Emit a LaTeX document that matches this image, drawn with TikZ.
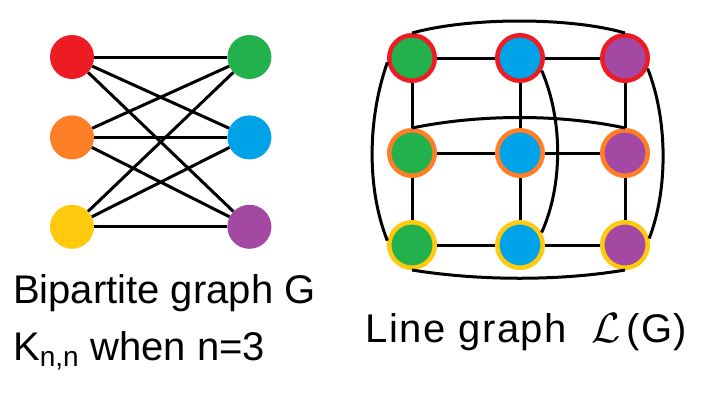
\documentclass[tikz,border=0pt]{standalone}
\usepackage{fontspec}
\setsansfont{Liberation Sans}
\usetikzlibrary{positioning}
\definecolor{pRed}{HTML}{ED1C24}
\definecolor{pOrange}{HTML}{FF7F27}
\definecolor{pYellow}{HTML}{FFC90E}
\definecolor{pGreen}{HTML}{22B14C}
\definecolor{pBlue}{HTML}{00A2E8}
\definecolor{pPurple}{HTML}{A349A4}

\begin{document}
\begin{tikzpicture}[
    x=1pt, y=-1pt,
    % Style definitions
    vertex/.style={circle, minimum size=44pt, inner sep=0pt},
    linevertex/.style={circle, minimum size=45.5pt, inner sep=0pt, line width=4.5pt},
    link/.style={line width=3pt, black},
    handtext/.style={font=\fontsize{40}{44}\selectfont\sffamily, anchor=base west, inner sep=0pt},
]
\useasboundingbox (0,0) rectangle (716,400);

% Bipartite graph G
\node[vertex, fill=pRed] (u1) at (72,57) {};
\node[vertex, fill=pOrange, below=36pt of u1] (u2) {};
\node[vertex, fill=pYellow, below=45pt of u2] (u3) {};
\node[vertex, fill=pGreen, right=133pt of u1] (v1) {};
\node[vertex, fill=pBlue, right=133pt of u2] (v2) {};
\node[vertex, fill=pPurple, right=133pt of u3] (v3) {};

\foreach \a in {1,2,3}
  \foreach \b in {1,2,3}
    \draw[link] (u\a) -- (v\b);

% Line graph L(G)
\node[linevertex, draw=pRed, fill=pGreen] (e11) at (412,58) {};
\node[linevertex, draw=pRed, fill=pBlue, right=58pt of e11] (e12) {};
\node[linevertex, draw=pRed, fill=pPurple, right=55pt of e12] (e13) {};
\node[linevertex, draw=pOrange, fill=pGreen, below=45pt of e11] (e21) {};
\node[linevertex, draw=pOrange, fill=pBlue, below=45pt of e12] (e22) {};
\node[linevertex, draw=pOrange, fill=pPurple, below=45pt of e13] (e23) {};
\node[linevertex, draw=pYellow, fill=pGreen, below=42pt of e21] (e31) {};
\node[linevertex, draw=pYellow, fill=pBlue, below=42pt of e22] (e32) {};
\node[linevertex, draw=pYellow, fill=pPurple, below=42pt of e23] (e33) {};

% Neighbours in a row or column
\foreach \r in {1,2,3} {
  \draw[link] (e\r1) -- (e\r2);
  \draw[link] (e\r2) -- (e\r3);
  \draw[link] (e1\r) -- (e2\r);
  \draw[link] (e2\r) -- (e3\r);
}

% Far ends of a row or column
\draw[link] (e11.north) .. controls (470,17) and (570,17) .. (e13.north);
\draw[link] (e21.north) .. controls (480,114) and (560,114) .. (e23.north);
\draw[link] (e31.south) .. controls (480,281) and (560,281) .. (e33.south);
\draw[link] (e11.190) .. controls (367,120) and (367,190) .. (e31.170);
\draw[link] (e12.-30) .. controls (563,120) and (563,185) .. (e32.30);
\draw[link] (e13.-25) .. controls (668,120) and (668,190) .. (e33.15);

% Captions
\node[handtext] (capA) at (13,303) {Bipartite graph G};
\node[handtext] (capB) at (13,360) {K\textsubscript{n,n} when n=3};
\node[handtext] (capC) at (365,342) {\addfontfeature{LetterSpace=4}Line graph\hspace{24pt}\scalebox{1.7}{$\mathcal{L}$}\hspace{6pt}(G)};

\end{tikzpicture}
\end{document}
